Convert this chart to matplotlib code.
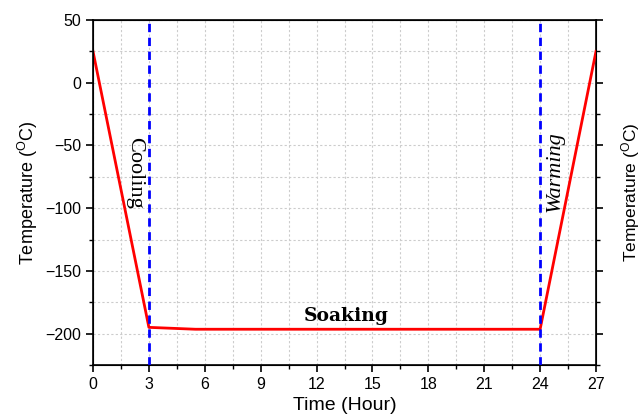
import matplotlib
matplotlib.use("Agg")
import matplotlib.pyplot as plt
from matplotlib.ticker import MultipleLocator

time_h = [0, 3, 5.5, 24, 27]
temp_c = [25, -195, -196.5, -196.5, 25]
phase_lines = [3, 24]

plt.rcParams['font.family'] = ['Liberation Sans', 'DejaVu Sans']

fig = plt.figure(figsize=(6.44, 4.19), dpi=100)
ax = fig.add_axes([93/644, 1-365/419, (596-93)/644, (365-20)/419])

ax.plot(time_h, temp_c, color='#ff0000', lw=2, zorder=3)
for xv in phase_lines:
    ax.axvline(xv, color='#0000ff', lw=2, ls=(0, (3, 2)), zorder=4)

ax.set_xlim(0, 27)
ax.set_ylim(-225, 50)
ax.xaxis.set_major_locator(MultipleLocator(3))
ax.xaxis.set_minor_locator(MultipleLocator(1.5))
ax.yaxis.set_major_locator(MultipleLocator(50))
ax.yaxis.set_minor_locator(MultipleLocator(25))
ax.grid(True, which='both', color='#cccccc', ls=(0, (2, 2)), lw=0.8)
ax.set_axisbelow(True)
ax.tick_params(which='major', length=5, width=1.2, labelsize=11.5, top=False)
ax.tick_params(which='minor', length=3, width=1, top=False)
for s in ax.spines.values():
    s.set_linewidth(1.2)
ax.set_yticks([50, 0, -50, -100, -150, -200])
ax.set_yticklabels(['50', '0', '\u221250', '\u2212100', '\u2212150', '\u2212200'])

ax.set_xlabel('Time (Hour)', fontsize=14, labelpad=4)
ax.set_ylabel('Temperature ($\\mathregular{^{O}}$C)', fontsize=13)

ax2 = ax.twinx()
ax2.set_ylim(-225, 50)
ax2.yaxis.set_major_locator(MultipleLocator(50))
ax2.yaxis.set_minor_locator(MultipleLocator(25))
ax2.tick_params(which='major', length=5, width=1.2, labelright=False)
ax2.tick_params(which='minor', length=3, width=1)
ax2.set_ylabel('Temperature ($\\mathregular{^{O}}$C)', fontsize=12.5, labelpad=10)

serif = ['Liberation Serif', 'DejaVu Serif']
ax.text(2.25, -72, 'Cooling', rotation=-90, ha='center', va='center',
        fontsize=16, family=serif)
ax.text(24.8, -71, 'Warming', rotation=90, ha='center', va='center',
        fontsize=16, family=serif, style='italic')
ax.text(13.6, -186, 'Soaking', ha='center', va='center',
        fontsize=13.5, family=['DejaVu Serif'], weight='bold')

fig.savefig('out.png', dpi=100)
